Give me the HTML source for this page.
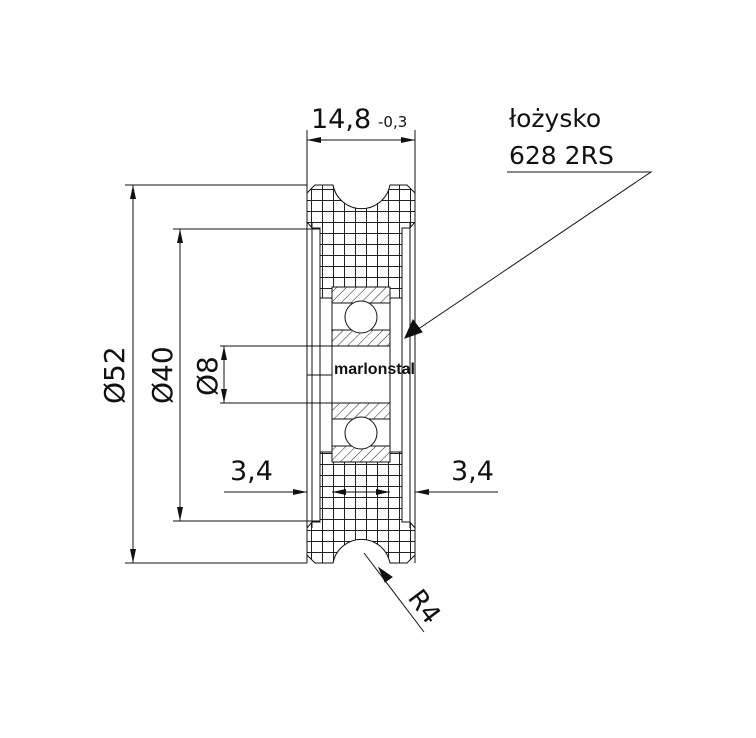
<!DOCTYPE html>
<html><head><meta charset="utf-8"><style>
html,body{margin:0;padding:0;background:#fff;}
svg{display:block;}
text{font-family:"DejaVu Sans","Liberation Sans",sans-serif;fill:#111;}
</style></head><body>
<svg width="756" height="738" viewBox="0 0 756 738" xmlns="http://www.w3.org/2000/svg">
<defs>
<pattern id="grid" width="11" height="11" patternUnits="userSpaceOnUse" x="3" y="2">
<path d="M0 0.5H11M0.5 0V11" stroke="#222" stroke-width="1" fill="none"/>
</pattern>
<pattern id="diag" width="7" height="7" patternUnits="userSpaceOnUse" patternTransform="rotate(45)">
<path d="M0 0V7" stroke="#222" stroke-width="1"/>
</pattern>
<marker id="ar" markerWidth="14" markerHeight="6" refX="14" refY="3" orient="auto" markerUnits="userSpaceOnUse">
<path d="M0 0L14 3L0 6z" fill="#111"/>
</marker>
</defs>
<g stroke="#111" stroke-width="1" fill="none">
<path d="M315 185H333A29 29 0 0 0 390 185H407L415 193V222L410 228H402V522H410L415 528V555L407 563H390A29 29 0 0 0 333 563H315L307 555V528L312 522H320V228H312L307 222V193Z" fill="url(#grid)" stroke="#111"/>
<rect x="320.5" y="298" width="81" height="154" fill="#fff" stroke="none"/>
<path d="M320 298H332M390 298H402M320 452H332M390 452H402"/>
<path d="M320 228V522M402 228V522"/>
<path d="M307 185V563M312 222V528M410 222V528M415 185V563"/>
<path d="M307 130V185M415 130V185"/>
<rect x="332" y="287" width="58" height="59" fill="#fff"/>
<rect x="332" y="287" width="58" height="16" fill="url(#diag)"/>
<rect x="332" y="330" width="58" height="16" fill="url(#diag)"/>
<circle cx="361" cy="317" r="16" fill="#fff"/>
<rect x="332" y="403" width="58" height="59" fill="#fff"/>
<rect x="332" y="403" width="58" height="16" fill="url(#diag)"/>
<rect x="332" y="446" width="58" height="16" fill="url(#diag)"/>
<circle cx="361" cy="433" r="16" fill="#fff"/>
<path d="M332 346V403M390 346V403"/>
<path d="M361 140H415" marker-end="url(#ar)"/>
<path d="M361 140H307" marker-end="url(#ar)"/>
<path d="M125 185H307M125 563H307"/>
<path d="M133 374V185" marker-end="url(#ar)"/>
<path d="M133 374V563" marker-end="url(#ar)"/>
<path d="M173 229H320M173 521H320"/>
<path d="M180 374V229" marker-end="url(#ar)"/>
<path d="M180 374V521" marker-end="url(#ar)"/>
<path d="M220 346H390M220 403H390M307 375H332"/>
<path d="M224 375V346" marker-end="url(#ar)"/>
<path d="M224 375V403" marker-end="url(#ar)"/>
<path d="M224 492H307" marker-end="url(#ar)"/>
<path d="M498 492H415" marker-end="url(#ar)"/>
<path d="M361 492H332" marker-end="url(#ar)"/>
<path d="M361 492H390" marker-end="url(#ar)"/>
<path d="M507 172H651L405 338"/>
<path d="M405 338L413 320L422 332Z" fill="#111"/>
<path d="M424 632L364 553"/>
<path d="M379 568L385 582L392 577Z" fill="#111"/>
</g>
<text x="311" y="128" font-size="27">14,8</text>
<text x="378" y="127" font-size="15">-0,3</text>
<text x="509" y="127" font-size="25">łożysko</text>
<text x="509" y="164" font-size="25">628 2RS</text>
<text x="334" y="374" font-size="16" font-weight="bold" style="font-family:'Liberation Sans',sans-serif">marlonstal</text>
<text x="230" y="480" font-size="27">3,4</text>
<text x="451" y="480" font-size="27">3,4</text>
<rect x="100" y="340" width="28" height="68" fill="#fff"/>
<rect x="147" y="340" width="28" height="68" fill="#fff"/>
<text transform="translate(124,404) rotate(-90)" font-size="28">Ø52</text>
<text transform="translate(172,404) rotate(-90)" font-size="28">Ø40</text>
<text transform="translate(217,396) rotate(-90)" font-size="28">Ø8</text>
<text transform="translate(407,598) rotate(53)" font-size="26">R4</text>
</svg>
</body></html>
